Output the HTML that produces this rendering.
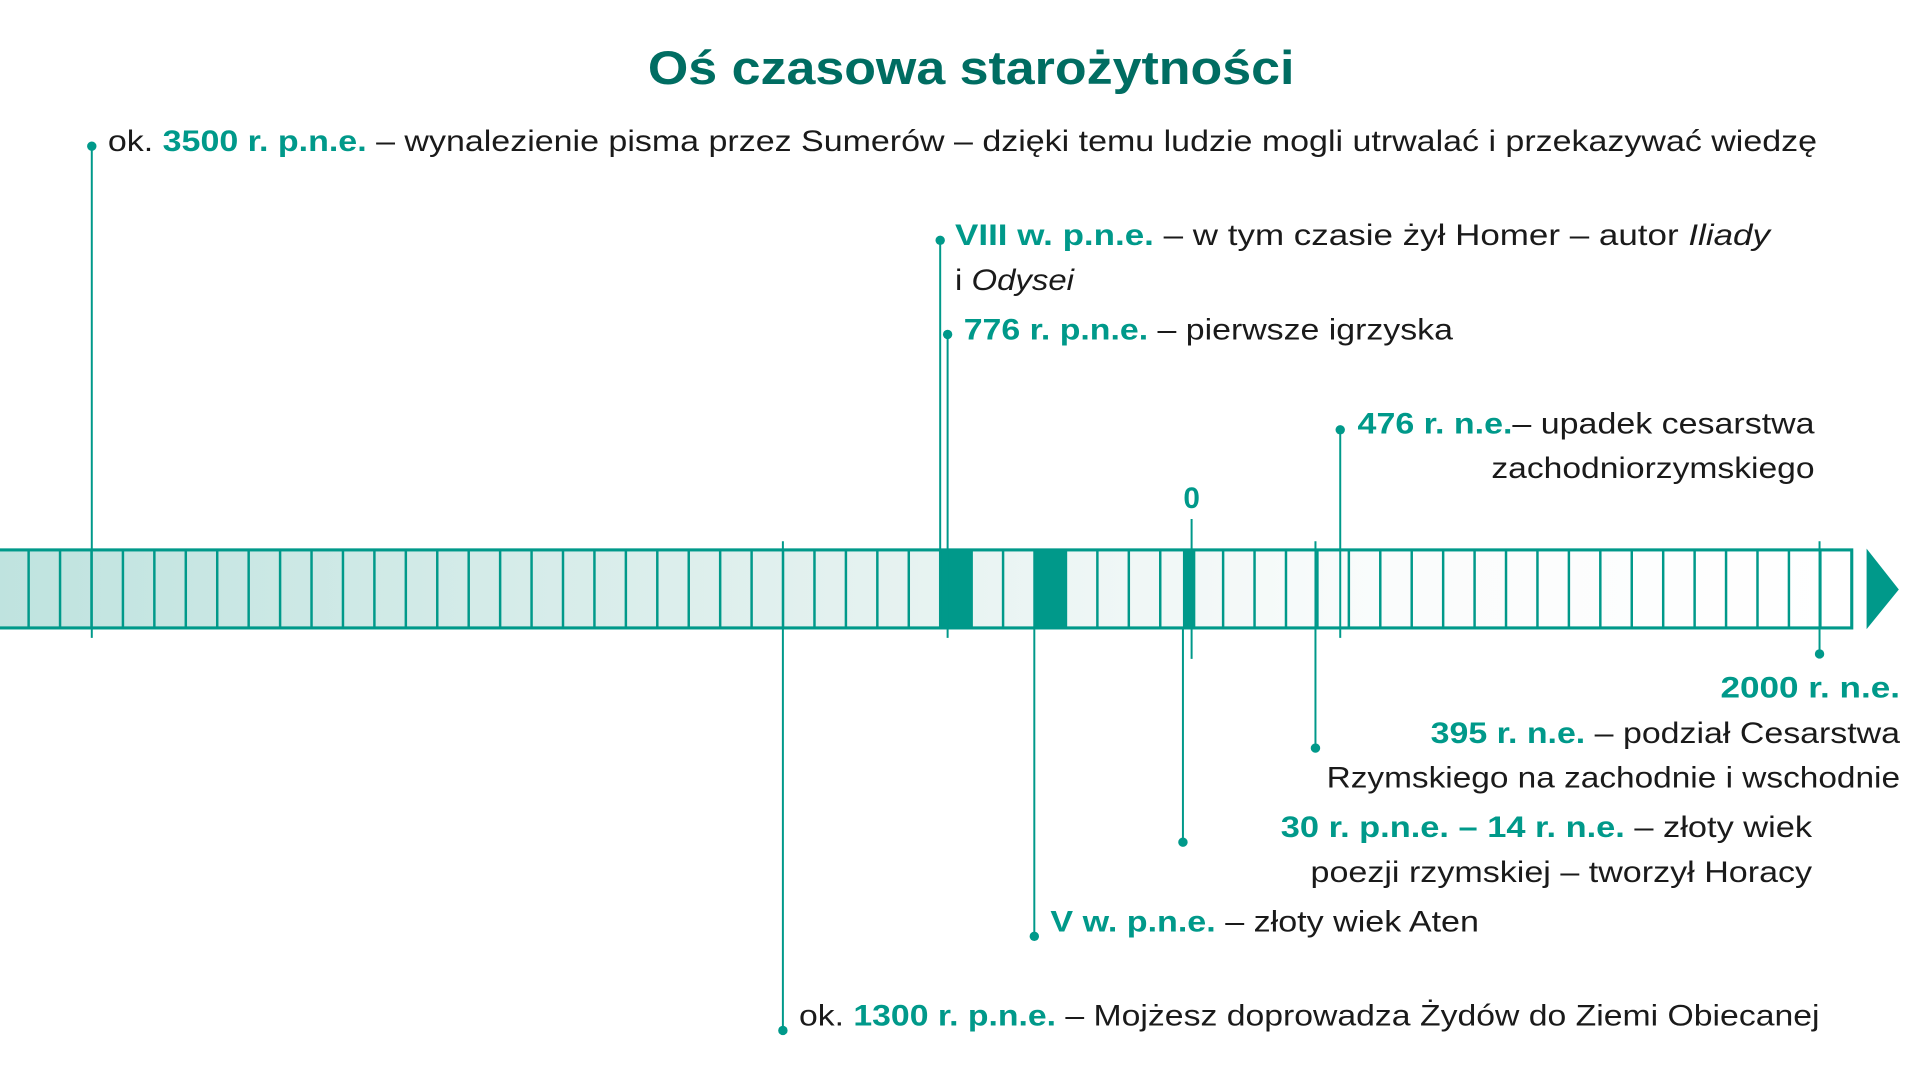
<!DOCTYPE html>
<html><head><meta charset="utf-8"><style>
html,body{margin:0;padding:0;background:#fff;width:1920px;height:1080px;overflow:hidden}
svg{display:block}
text{font-family:"Liberation Sans",sans-serif;fill:#1a1a1a;font-size:24px}
.b{font-weight:bold;fill:#00998a}
</style></head><body>
<svg width="1920" height="1080" viewBox="0 0 1550 872" xmlns="http://www.w3.org/2000/svg">
<defs><linearGradient id="g" x1="0" x2="1" y1="0" y2="0">
<stop offset="0" stop-color="#bfe3df"/><stop offset="0.45" stop-color="#e3f1ef"/><stop offset="0.75" stop-color="#fafcfc"/><stop offset="1" stop-color="#ffffff"/></linearGradient></defs>
<text x="523" y="68" textLength="522" lengthAdjust="spacingAndGlyphs" style="font-size:38px;font-weight:bold;fill:#006d62">Oś czasowa starożytności</text>
<rect x="-2" y="444" width="1497" height="63" fill="url(#g)" stroke="#00998a" stroke-width="2.5"/>
<g id="cells" stroke="#00998a" stroke-width="2"></g>
<rect x="759" y="444" width="26" height="63" fill="#00998a"/>
<rect x="835" y="444" width="26" height="63" fill="#00998a"/>
<rect x="955" y="444" width="10" height="63" fill="#00998a"/>
<polygon points="1507,443 1533,476 1507,508" fill="#00998a"/>
<g stroke="#00998a" stroke-width="1.6" fill="none">
<line x1="74" y1="118" x2="74" y2="515"/>
<line x1="759" y1="194" x2="759" y2="508"/>
<line x1="765" y1="270" x2="765" y2="515"/>
<line x1="1082" y1="347" x2="1082" y2="515"/>
<line x1="962" y1="419" x2="962" y2="532"/>
<line x1="632" y1="437" x2="632" y2="832"/>
<line x1="835" y1="508" x2="835" y2="756"/>
<line x1="955" y1="508" x2="955" y2="680"/>
<line x1="1062" y1="437" x2="1062" y2="604"/>
<line x1="1469" y1="437" x2="1469" y2="528"/>
</g>
<g fill="#00998a">
<circle cx="74" cy="118" r="3.8"/><circle cx="759" cy="194" r="3.8"/><circle cx="765" cy="270" r="3.8"/>
<circle cx="1082" cy="347" r="3.8"/><circle cx="632" cy="832" r="3.8"/><circle cx="835" cy="756" r="3.8"/>
<circle cx="955" cy="680" r="3.8"/><circle cx="1062" cy="604" r="3.8"/><circle cx="1469" cy="528" r="3.8"/>
</g>
<text x="962" y="410" text-anchor="middle" class="b">0</text>
<text x="87" y="122" textLength="1380" lengthAdjust="spacingAndGlyphs">ok. <tspan class="b">3500 r. p.n.e.</tspan> – wynalezienie pisma przez Sumerów – dzięki temu ludzie mogli utrwalać i przekazywać wiedzę</text>
<text x="771" y="198" textLength="658" lengthAdjust="spacingAndGlyphs"><tspan class="b">VIII w. p.n.e.</tspan> – w tym czasie żył Homer – autor <tspan font-style="italic">Iliady</tspan></text>
<text x="771" y="234" textLength="96" lengthAdjust="spacingAndGlyphs">i <tspan font-style="italic">Odysei</tspan></text>
<text x="778" y="274" textLength="395" lengthAdjust="spacingAndGlyphs"><tspan class="b">776 r. p.n.e.</tspan> – pierwsze igrzyska</text>
<text x="1096" y="350" textLength="369" lengthAdjust="spacingAndGlyphs"><tspan class="b">476 r. n.e.</tspan>– upadek cesarstwa</text>
<text x="1204" y="386" textLength="261" lengthAdjust="spacingAndGlyphs">zachodniorzymskiego</text>
<text x="1389" y="563" textLength="145" lengthAdjust="spacingAndGlyphs" class="b">2000 r. n.e.</text>
<text x="1155" y="600" textLength="379" lengthAdjust="spacingAndGlyphs"><tspan class="b">395 r. n.e.</tspan> – podział Cesarstwa</text>
<text x="1071" y="636" textLength="463" lengthAdjust="spacingAndGlyphs">Rzymskiego na zachodnie i wschodnie</text>
<text x="1034" y="676" textLength="429" lengthAdjust="spacingAndGlyphs"><tspan class="b">30 r. p.n.e. – 14 r. n.e.</tspan> – złoty wiek</text>
<text x="1058" y="712" textLength="405" lengthAdjust="spacingAndGlyphs">poezji rzymskiej – tworzył Horacy</text>
<text x="848" y="752" textLength="346" lengthAdjust="spacingAndGlyphs"><tspan class="b">V w. p.n.e.</tspan> – złoty wiek Aten</text>
<text x="645" y="828" textLength="824" lengthAdjust="spacingAndGlyphs">ok. <tspan class="b">1300 r. p.n.e.</tspan> – Mojżesz doprowadza Żydów do Ziemi Obiecanej</text>
</svg>
<script>
var g=document.getElementById('cells'),s='';
for(var i=0;i<59;i++){var x=23+i*25.38;s+='<line x1="'+x+'" y1="444" x2="'+x+'" y2="507"/>';}
g.innerHTML=s;
</script>
</body></html>
